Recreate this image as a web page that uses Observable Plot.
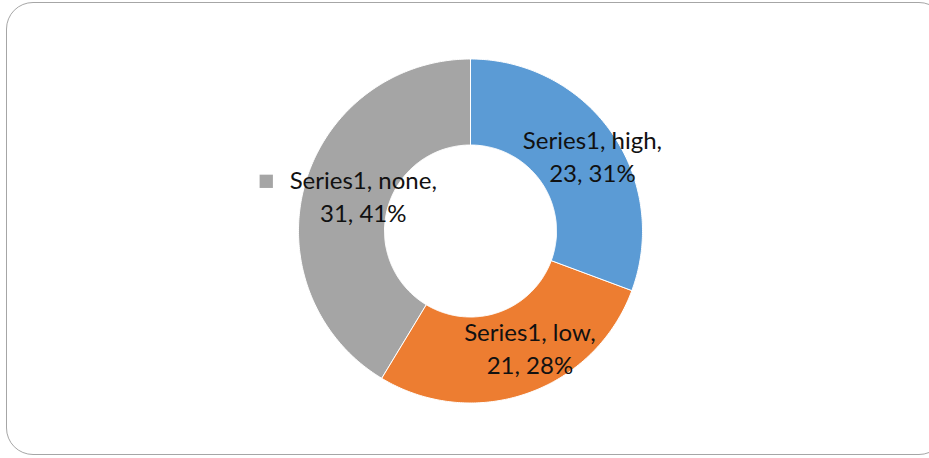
<!DOCTYPE html>
<html>
<head>
<meta charset="utf-8">
<script src="https://cdn.jsdelivr.net/npm/d3@7"></script>
<script src="https://cdn.jsdelivr.net/npm/@observablehq/plot@0.6"></script>
<style>
  html, body { margin: 0; padding: 0; background: #fff; }
  #wrap { position: relative; width: 929px; height: 458px; overflow: hidden; }
  #frame { position: absolute; left: 6px; top: 2px; width: 940px; height: 453px;
           border: 1px solid #a6a6a6; border-radius: 27px; box-sizing: border-box; }
  #chart { position: absolute; left: 0; top: 0; }
</style>
</head>
<body>
<div id="wrap"><div id="frame"></div><div id="chart"></div></div>
<script>
const series = "Series1";
const categories = ["high", "low", "none"];
const values = [23, 21, 31];
const colors = ["#5B9BD5", "#ED7D31", "#A5A5A5"];

const W = 929, H = 458;
const cx = 470, cy = 230.5, rOuter = 172, rInner = 86;

const total = d3.sum(values);
const pie = d3.pie().sort(null).value(d => d.value)(
  categories.map((c, i) => ({category: c, value: values[i]}))
);

// polygon points for each ring segment (angle measured clockwise from top)
const ringPts = [];
pie.forEach(p => {
  const n = Math.max(8, Math.ceil((p.endAngle - p.startAngle) * 80));
  const pts = [];
  for (let k = 0; k <= n; k++) {
    const a = p.startAngle + (p.endAngle - p.startAngle) * k / n;
    pts.push([cx + rOuter * Math.sin(a), cy - rOuter * Math.cos(a)]);
  }
  for (let k = n; k >= 0; k--) {
    const a = p.startAngle + (p.endAngle - p.startAngle) * k / n;
    pts.push([cx + rInner * Math.sin(a), cy - rInner * Math.cos(a)]);
  }
  pts.forEach(([x, y]) => ringPts.push({category: p.data.category, x, y}));
});

const labels = pie.map(p => {
  const a = (p.startAngle + p.endAngle) / 2, r = (rOuter + rInner) / 2;
  const pct = Math.round(p.data.value / total * 100);
  return {
    category: p.data.category,
    x: cx + r * Math.sin(a), y: cy - r * Math.cos(a),
    text: `${series}, ${p.data.category},\n${p.data.value}, ${pct}%`
  };
});
const byCat = c => labels.filter(d => d.category === c);

const font = "Lato, 'Open Sans', sans-serif";
const textOpts = {x: "x", y: "y", text: "text", fontSize: 24, lineHeight: 1.375,
                  fill: "#111", textAnchor: "middle", fontFamily: font};

const chart = Plot.plot({
  width: W, height: H,
  margin: 0,
  x: {domain: [0, W], range: [0, W], axis: null},
  y: {domain: [0, H], range: [0, H], axis: null},
  color: {domain: categories, range: colors},
  style: {background: "transparent", fontFamily: font},
  marks: [
    Plot.line(ringPts, {x: "x", y: "y", z: "category", fill: "category",
                        stroke: "#fff", strokeWidth: 1, curve: "linear-closed"}),
    Plot.text(byCat("high"), {...textOpts, dx: 16, dy: -2}),
    Plot.text(byCat("low"), {...textOpts, dx: 17, dy: -6}),
    Plot.text(byCat("none"), {...textOpts, dx: 17, dy: -1}),
    Plot.dot(byCat("none"), {x: "x", y: "y", symbol: "square", r: 7.5,
                             fill: colors[categories.indexOf("none")], stroke: null,
                             dx: -80, dy: -15})
  ]
});
document.getElementById("chart").appendChild(chart);
</script>
</body>
</html>
